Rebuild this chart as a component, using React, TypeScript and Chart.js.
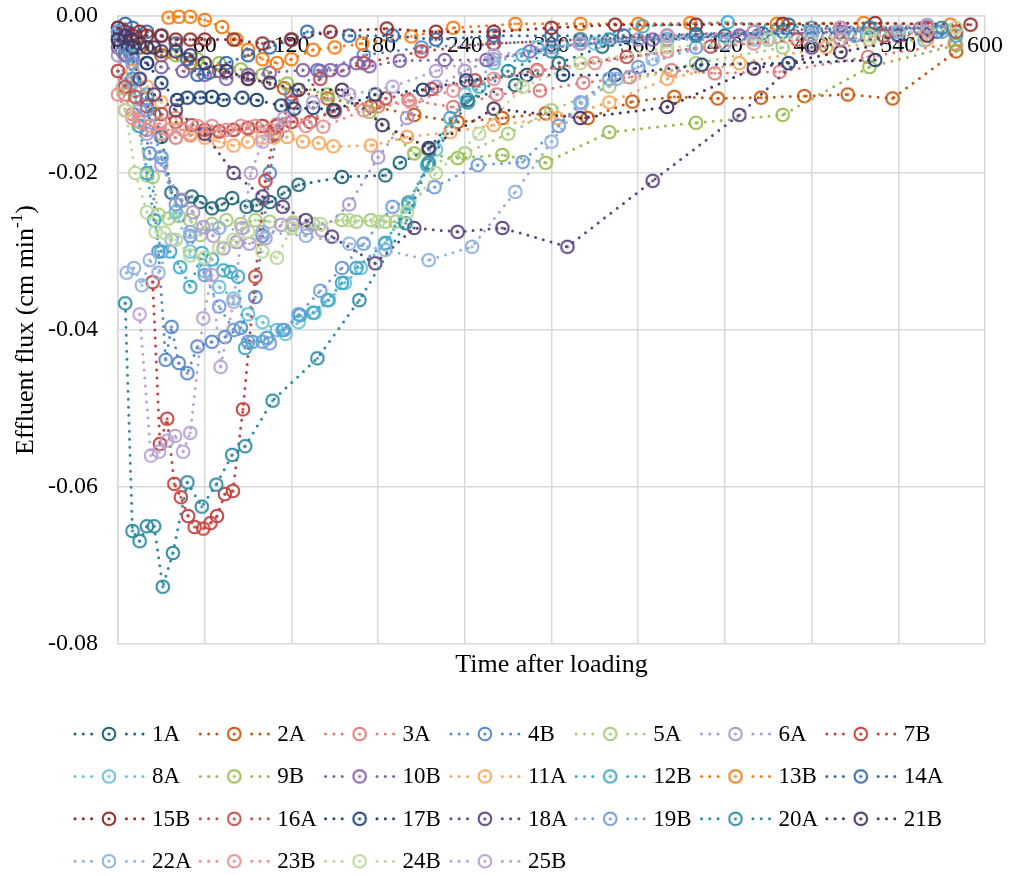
import React, { useEffect, useRef } from "react";
import { Chart, registerables } from "chart.js";

Chart.register(...registerables);

const FONT = '"Liberation Serif", "Times New Roman", serif';

// Sample labels and their colours (legend order)
const seriesNames = [
  "1A", "2A", "3A", "4B", "5A", "6A", "7B",
  "8A", "9B", "10B", "11A", "12B", "13B", "14A",
  "15B", "16A", "17B", "18A", "19B", "20A", "21B",
  "22A", "23B", "24B", "25B",
];
const seriesColors = [
  "#226878", "#C55A11", "#DC7F7D", "#5A8ACB", "#A9CC80", "#AC98CE", "#C4443F",
  "#6CC3DB", "#97BD51", "#8462AC", "#F9A962", "#43A9C8", "#F57C14", "#3669A8",
  "#8E2C2A", "#C0504D", "#1F4373", "#5E4680", "#729DD8", "#2E8CA4", "#48345E",
  "#93B3DC", "#E39391", "#BCD89A", "#B7A5D3",
];

// Axis ranges and ticks
const timeTicks = [0, 60, 120, 180, 240, 300, 360, 420, 480, 540, 600];
const fluxTicks = [0, -0.02, -0.04, -0.06, -0.08];

// [time after loading (min), effluent flux (cm/min)]
const s1A = [[0,-0.0020],[5,-0.0030],[10,-0.0050],[15,-0.0080],[20,-0.0105],[25,-0.0125],[30,-0.0154],[37,-0.0225],[44,-0.0235],[51,-0.0230],[57,-0.0237],[65,-0.0245],[72,-0.0240],[79,-0.0232],[89,-0.0243],[96,-0.0241],[105,-0.0237],[115,-0.0225],[125,-0.0215],[155,-0.0205],[185,-0.0203],[195,-0.0187],[215,-0.0170],[242,-0.0107],[275,-0.0088],[305,-0.0060],[335,-0.0039],[380,-0.0030],[420,-0.0025],[464,-0.0011],[520,-0.0015],[560,-0.0012]];
const s2A = [[5,-0.0030],[15,-0.0040],[30,-0.0050],[50,-0.0060],[70,-0.0070],[90,-0.0080],[115,-0.0092],[145,-0.0105],[175,-0.0115],[205,-0.0126],[235,-0.0135],[266,-0.0130],[296,-0.0124],[325,-0.0130],[356,-0.0109],[385,-0.0103],[415,-0.0105],[445,-0.0104],[475,-0.0102],[505,-0.0100],[536,-0.0105],[580,-0.0045]];
const s3A = [[0,-0.0070],[5,-0.0100],[10,-0.0125],[20,-0.0145],[30,-0.0150],[40,-0.0155],[50,-0.0152],[60,-0.0150],[70,-0.0147],[80,-0.0145],[90,-0.0142],[100,-0.0140],[110,-0.0138],[120,-0.0135],[150,-0.0122],[180,-0.0115],[201,-0.0107],[232,-0.0116],[262,-0.0100],[292,-0.0095],[322,-0.0085],[354,-0.0078],[383,-0.0069],[413,-0.0073],[458,-0.0071],[519,-0.0052],[579,-0.0035]];
const s4B = [[0,-0.0025],[6,-0.0050],[12,-0.0095],[22,-0.0175],[28,-0.0300],[33,-0.0438],[37,-0.0396],[42,-0.0442],[48,-0.0455],[55,-0.0421],[65,-0.0415],[74,-0.0409],[85,-0.0397],[95,-0.0358],[100,-0.0280],[105,-0.0200],[110,-0.0150],[120,-0.0100],[140,-0.0070],[170,-0.0050],[210,-0.0040],[260,-0.0035],[320,-0.0030],[400,-0.0025],[480,-0.0020],[560,-0.0015]];
const s5A = [[3,-0.0092],[8,-0.0092],[14,-0.0140],[20,-0.0203],[24,-0.0205],[28,-0.0253],[35,-0.0258],[42,-0.0255],[50,-0.0260],[57,-0.0279],[65,-0.0265],[75,-0.0260],[85,-0.0265],[95,-0.0260],[105,-0.0262],[121,-0.0263],[135,-0.0265],[155,-0.0260],[165,-0.0262],[175,-0.0260],[185,-0.0262],[192,-0.0262],[201,-0.0237],[215,-0.0190],[240,-0.0175],[270,-0.0150],[300,-0.0120],[340,-0.0090],[400,-0.0060],[460,-0.0040],[520,-0.0030],[580,-0.0020]];
const s6A = [[0,-0.0050],[5,-0.0080],[10,-0.0085],[15,-0.0120],[20,-0.0150],[30,-0.0190],[44,-0.0234],[52,-0.0250],[59,-0.0269],[66,-0.0280],[73,-0.0296],[82,-0.0288],[91,-0.0290],[102,-0.0283],[113,-0.0266],[121,-0.0266],[131,-0.0270],[141,-0.0273],[160,-0.0240],[180,-0.0180],[200,-0.0130],[220,-0.0090],[240,-0.0070],[260,-0.0055],[300,-0.0040],[360,-0.0030],[430,-0.0025],[500,-0.0020],[560,-0.0015]];
const s7B = [[24,-0.0339],[29,-0.0545],[34,-0.0513],[39,-0.0596],[43.5,-0.0613],[48.5,-0.0637],[53,-0.0651],[59,-0.0653],[64,-0.0646],[68.5,-0.0637],[74,-0.0609],[79.5,-0.0605],[86.5,-0.0501],[95,-0.0332],[102,-0.0210],[108,-0.0150],[120,-0.0110],[140,-0.0080],[170,-0.0060],[210,-0.0045],[260,-0.0035],[320,-0.0030],[380,-0.0025],[440,-0.0020],[500,-0.0015],[560,-0.0015]];
const s8A = [[0,-0.0020],[5,-0.0030],[10,-0.0050],[20,-0.0100],[30,-0.0180],[40,-0.0250],[50,-0.0300],[60,-0.0325],[70,-0.0345],[80,-0.0360],[90,-0.0380],[100,-0.0390],[110,-0.0400],[116,-0.0405],[125,-0.0390],[136,-0.0378],[146,-0.0362],[157,-0.0340],[168,-0.0321],[185,-0.0290],[201,-0.0240],[220,-0.0170],[240,-0.0100],[260,-0.0060],[290,-0.0040],[330,-0.0035],[380,-0.0030],[440,-0.0030],[500,-0.0030],[558,-0.0031]];
const s9B = [[5,-0.0030],[20,-0.0040],[40,-0.0050],[55,-0.0055],[70,-0.0060],[85,-0.0068],[100,-0.0075],[117,-0.0086],[145,-0.0100],[174,-0.0122],[205,-0.0175],[235,-0.0181],[266,-0.0177],[296,-0.0187],[340,-0.0148],[400,-0.0136],[460,-0.0126],[520,-0.0065],[580,-0.0037]];
const s10B = [[0,-0.0040],[5,-0.0050],[10,-0.0055],[20,-0.0060],[30,-0.0065],[45,-0.0070],[60,-0.0075],[75,-0.0080],[90,-0.0075],[105,-0.0072],[128,-0.0069],[138,-0.0069],[147,-0.0069],[156,-0.0069],[165,-0.0060],[174,-0.0064],[195,-0.0057],[226,-0.0056],[255,-0.0056],[285,-0.0045],[320,-0.0035],[370,-0.0030],[430,-0.0025],[500,-0.0020],[555,-0.0016]];
const s11A = [[10,-0.0070],[20,-0.0090],[30,-0.0110],[40,-0.0130],[50,-0.0150],[60,-0.0155],[70,-0.0160],[80,-0.0165],[90,-0.0160],[100,-0.0155],[108,-0.0155],[117,-0.0154],[128,-0.0160],[139,-0.0162],[149,-0.0166],[175,-0.0165],[200,-0.0154],[230,-0.0148],[260,-0.0139],[304,-0.0130],[340,-0.0110],[380,-0.0080],[430,-0.0060],[490,-0.0040],[560,-0.0030]];
const s12B = [[0,-0.0020],[5,-0.0040],[10,-0.0080],[15,-0.0140],[20,-0.0200],[25,-0.0260],[30,-0.0300],[36,-0.0300],[43,-0.0320],[50,-0.0345],[58,-0.0302],[65,-0.0310],[73,-0.0324],[78,-0.0326],[83,-0.0332],[88,-0.0423],[93,-0.0415],[103,-0.0410],[114,-0.0400],[126,-0.0381],[135,-0.0378],[145,-0.0362],[155,-0.0340],[165,-0.0321],[185,-0.0289],[201,-0.0238],[214,-0.0190],[230,-0.0130],[250,-0.0090],[280,-0.0050],[320,-0.0030],[363,-0.0013],[422,-0.0008],[480,-0.0015],[540,-0.0020],[580,-0.0025]];
const s13B = [[35,-0.0002],[42,-0.0001],[50,-0.0001],[60,-0.0005],[72,-0.0014],[82,-0.0030],[90,-0.0043],[100,-0.0055],[110,-0.0060],[120,-0.0055],[135,-0.0043],[150,-0.0040],[169,-0.0035],[203,-0.0026],[232,-0.0015],[275,-0.0010],[320,-0.0010],[360,-0.0010],[396,-0.0009],[456,-0.0010],[516,-0.0009],[576,-0.0011]];
const s14A = [[0,-0.0015],[5,-0.0010],[10,-0.0015],[20,-0.0020],[30,-0.0025],[40,-0.0035],[48,-0.0055],[55,-0.0075],[63,-0.0072],[75,-0.0060],[90,-0.0050],[105,-0.0040],[120,-0.0030],[131,-0.0020],[160,-0.0025],[190,-0.0025],[220,-0.0030],[260,-0.0025],[300,-0.0025],[350,-0.0025],[400,-0.0023],[446,-0.0022],[506,-0.0022],[567,-0.0020]];
const s15B = [[0,-0.0015],[5,-0.0020],[10,-0.0025],[15,-0.0020],[20,-0.0025],[30,-0.0025],[40,-0.0030],[50,-0.0030],[60,-0.0030],[80,-0.0030],[100,-0.0035],[120,-0.0030],[147,-0.0020],[186,-0.0016],[220,-0.0020],[260,-0.0020],[300,-0.0015],[344,-0.0011],[400,-0.0011],[460,-0.0010],[524,-0.0009],[590,-0.0011]];
const s16A = [[0,-0.0070],[5,-0.0090],[12,-0.0103],[20,-0.0115],[30,-0.0125],[40,-0.0135],[51,-0.0139],[60,-0.0145],[70,-0.0147],[80,-0.0145],[90,-0.0143],[100,-0.0140],[110,-0.0140],[120,-0.0135],[133,-0.0135],[150,-0.0120],[185,-0.0105],[217,-0.0093],[247,-0.0082],[290,-0.0069],[352,-0.0052],[410,-0.0039],[470,-0.0030],[530,-0.0025],[580,-0.0020]];
const s17B = [[0,-0.0030],[10,-0.0040],[20,-0.0060],[30,-0.0085],[41,-0.0107],[48,-0.0104],[57,-0.0104],[65,-0.0103],[73,-0.0107],[86,-0.0104],[96,-0.0107],[113,-0.0114],[122,-0.0118],[135,-0.0117],[149,-0.0120],[178,-0.0100],[211,-0.0094],[241,-0.0082],[283,-0.0075],[308,-0.0075],[344,-0.0075],[404,-0.0062],[464,-0.0060],[524,-0.0056]];
const s18A = [[5,-0.0030],[15,-0.0080],[25,-0.0100],[40,-0.0120],[60,-0.0150],[80,-0.0200],[100,-0.0230],[114,-0.0243],[130,-0.0260],[148,-0.0281],[178,-0.0315],[205,-0.0270],[235,-0.0275],[266,-0.0270],[311,-0.0294],[370,-0.0210],[430,-0.0126],[480,-0.0040],[540,-0.0025]];
const s19B = [[0,-0.0020],[10,-0.0060],[20,-0.0120],[30,-0.0180],[40,-0.0240],[50,-0.0280],[60,-0.0330],[70,-0.0370],[80,-0.0400],[90,-0.0415],[100,-0.0415],[105,-0.0417],[115,-0.0400],[125,-0.0380],[140,-0.0350],[155,-0.0321],[170,-0.0290],[190,-0.0243],[219,-0.0218],[249,-0.0190],[280,-0.0186],[305,-0.0140],[320,-0.0110],[340,-0.0080],[360,-0.0065],[400,-0.0040],[450,-0.0030],[510,-0.0025],[570,-0.0020]];
const s20A = [[5,-0.0366],[10,-0.0656],[15,-0.0669],[20,-0.0650],[25,-0.0650],[31,-0.0727],[38,-0.0684],[48,-0.0594],[58,-0.0625],[68,-0.0597],[79,-0.0559],[88,-0.0548],[107,-0.0490],[138,-0.0436],[167,-0.0362],[199,-0.0264],[215,-0.0187],[242,-0.0110],[270,-0.0070],[300,-0.0045],[340,-0.0030],[400,-0.0025],[460,-0.0020],[520,-0.0015],[570,-0.0015]];
const s21B = [[0,-0.0030],[5,-0.0025],[10,-0.0030],[15,-0.0035],[20,-0.0040],[25,-0.0040],[30,-0.0045],[40,-0.0045],[50,-0.0050],[60,-0.0060],[75,-0.0070],[90,-0.0080],[105,-0.0085],[125,-0.0094],[155,-0.0094],[183,-0.0139],[215,-0.0168],[260,-0.0118],[320,-0.0130],[380,-0.0116],[440,-0.0067],[500,-0.0046],[560,-0.0025]];
const s22A = [[6,-0.0327],[11,-0.0321],[16.5,-0.0343],[22,-0.0311],[28,-0.0327],[37,-0.0285],[50,-0.0275],[70,-0.0270],[100,-0.0275],[130,-0.0280],[160,-0.0290],[185,-0.0298],[215,-0.0311],[245,-0.0294],[275,-0.0224],[300,-0.0160],[321,-0.0111],[345,-0.0080],[370,-0.0055],[420,-0.0035],[480,-0.0025],[540,-0.0020]];
const s23B = [[0,-0.0100],[5,-0.0120],[10,-0.0130],[15,-0.0135],[22,-0.0140],[29,-0.0137],[35,-0.0145],[45,-0.0145],[55,-0.0140],[65,-0.0140],[75,-0.0145],[85,-0.0140],[95,-0.0140],[105,-0.0145],[115,-0.0140],[130,-0.0140],[142,-0.0141],[170,-0.0120],[202,-0.0109],[232,-0.0095],[260,-0.0080],[290,-0.0070],[330,-0.0060],[380,-0.0045],[440,-0.0035],[500,-0.0030],[560,-0.0020]];
const s24B = [[5,-0.0120],[12,-0.0200],[20,-0.0250],[26,-0.0275],[32,-0.0276],[40,-0.0285],[50,-0.0305],[60,-0.0308],[70,-0.0295],[80,-0.0285],[90,-0.0275],[100,-0.0300],[110,-0.0308],[120,-0.0270],[140,-0.0265],[160,-0.0260],[180,-0.0262],[200,-0.0250],[220,-0.0200],[250,-0.0150],[280,-0.0090],[320,-0.0060],[380,-0.0040],[450,-0.0030],[520,-0.0025],[580,-0.0015]];
const s25B = [[15,-0.0380],[22.8,-0.0560],[28.4,-0.0555],[34,-0.0541],[39.5,-0.0535],[45,-0.0555],[50,-0.0531],[59,-0.0385],[65,-0.0330],[71,-0.0447],[80,-0.0364],[86,-0.0270],[92,-0.0200],[100,-0.0160],[115,-0.0130],[135,-0.0110],[160,-0.0100],[190,-0.0090],[220,-0.0070],[260,-0.0050],[320,-0.0035],[380,-0.0025],[440,-0.0020],[500,-0.0015],[560,-0.0012]];

const seriesData = [
  s1A, s2A, s3A, s4B, s5A, s6A, s7B, s8A, s9B, s10B, s11A, s12B, s13B,
  s14A, s15B, s16A, s17B, s18A, s19B, s20A, s21B, s22A, s23B, s24B, s25B,
];

// Open circle marker with a centre dot
function makeMarker(color: string): HTMLCanvasElement {
  const size = 18;
  const c = document.createElement("canvas");
  c.width = size;
  c.height = size;
  const ctx = c.getContext("2d")!;
  ctx.strokeStyle = color;
  ctx.lineWidth = 2;
  ctx.beginPath();
  ctx.arc(size / 2, size / 2, 6.3, 0, Math.PI * 2);
  ctx.stroke();
  ctx.fillStyle = color;
  ctx.beginPath();
  ctx.arc(size / 2, size / 2, 1.6, 0, Math.PI * 2);
  ctx.fill();
  return c;
}

const W = 1011;
const H = 876;

// Keep the plot area fixed by ignoring the label overhang padding
const noOverhang = (scale: any) => {
  scale.paddingTop = 0;
  scale.paddingBottom = 0;
  scale.paddingLeft = 0;
  scale.paddingRight = 0;
};

export default function App() {
  const canvasRef = useRef<HTMLCanvasElement | null>(null);

  useEffect(() => {
    document.body.style.margin = "0";
    const canvas = canvasRef.current;
    if (!canvas) return;
    const markers = seriesColors.map(makeMarker);

    // Axis titles and a fixed-column legend drawn on the canvas
    const decorations = {
      id: "decorations",
      afterDraw(chart: Chart) {
        const ctx = chart.ctx;
        const area = chart.chartArea;
        ctx.save();
        ctx.fillStyle = "#000";
        ctx.textBaseline = "middle";

        // x-axis title
        ctx.font = `26px ${FONT}`;
        ctx.textAlign = "center";
        ctx.fillText("Time after loading", (area.left + area.right) / 2, 665);

        // y-axis title with superscript
        const main = "Effluent flux (cm min";
        const sup = "-1";
        const tail = ")";
        ctx.font = `26px ${FONT}`;
        const wMain = ctx.measureText(main).width;
        const wTail = ctx.measureText(tail).width;
        ctx.font = `17px ${FONT}`;
        const wSup = ctx.measureText(sup).width;
        const total = wMain + wSup + wTail;
        ctx.translate(26, (area.top + area.bottom) / 2);
        ctx.rotate(-Math.PI / 2);
        ctx.textAlign = "left";
        let x = -total / 2;
        ctx.font = `26px ${FONT}`;
        ctx.fillText(main, x, 0);
        x += wMain;
        ctx.font = `17px ${FONT}`;
        ctx.fillText(sup, x, -8);
        x += wSup;
        ctx.font = `26px ${FONT}`;
        ctx.fillText(tail, x, 0);
        ctx.setTransform(1, 0, 0, 1, 0, 0);

        // legend: 7 columns
        ctx.font = `23px ${FONT}`;
        ctx.textAlign = "left";
        seriesNames.forEach((name, i) => {
          const col = i % 7;
          const row = Math.floor(i / 7);
          const x0 = 75 + col * 125.3;
          const y = 734 + row * 42.4;
          ctx.fillStyle = seriesColors[i];
          for (const dx of [0, 8.3, 16.6, 51.4, 59.7, 68]) {
            ctx.beginPath();
            ctx.arc(x0 + dx, y, 1.5, 0, Math.PI * 2);
            ctx.fill();
          }
          ctx.drawImage(markers[i], x0 + 34 - 9, y - 9);
          ctx.fillStyle = "#000";
          ctx.fillText(name, x0 + 77, y + 1);
        });
        ctx.restore();
      },
    };

    const datasets = seriesNames.map((name, i) => ({
      label: name,
      data: seriesData[i].map(([t, f]) => ({ x: t, y: f })),
      borderColor: seriesColors[i],
      backgroundColor: seriesColors[i],
      borderWidth: 3,
      borderDash: [0, 8],
      borderCapStyle: "round" as const,
      pointStyle: markers[i],
      pointRadius: 7,
      pointHoverRadius: 7,
      tension: 0,
      fill: false,
      clip: false as const,
      order: seriesNames.length - 1 - i,
    }));

    const chart = new Chart(canvas, {
      type: "line",
      data: { datasets },
      plugins: [decorations],
      options: {
        animation: false,
        responsive: false,
        devicePixelRatio: 1,
        layout: { padding: { left: 0, top: 16, right: 26, bottom: 232 } },
        plugins: { legend: { display: false }, tooltip: { enabled: false } },
        scales: {
          x: {
            type: "linear",
            position: { y: 0 },
            min: timeTicks[0],
            max: timeTicks[timeTicks.length - 1],
            afterBuildTicks: (scale: any) => {
              scale.ticks = timeTicks.map((v) => ({ value: v }));
            },
            afterFit: noOverhang,
            ticks: {
              autoSkip: false,
              maxRotation: 0,
              padding: 15,
              color: "#000",
              font: { family: FONT, size: 24 },
            },
            grid: { color: "#D9D9D9", lineWidth: 1.5, drawTicks: false },
            border: { color: "#D9D9D9", width: 1.5 },
          },
          y: {
            type: "linear",
            min: fluxTicks[fluxTicks.length - 1],
            max: fluxTicks[0],
            afterBuildTicks: (scale: any) => {
              scale.ticks = fluxTicks.slice().reverse().map((v) => ({ value: v }));
            },
            afterFit: (scale: any) => {
              scale.width = 118;
              noOverhang(scale);
            },
            ticks: {
              padding: 20,
              color: "#000",
              font: { family: FONT, size: 24 },
              callback: (v: any) => Number(v).toFixed(2),
            },
            grid: { color: "#D9D9D9", lineWidth: 1.5, drawTicks: false },
            border: { color: "#D9D9D9", width: 1.5 },
          },
        },
      },
    });
    return () => chart.destroy();
  }, []);

  return (
    <canvas
      ref={canvasRef}
      width={W}
      height={H}
      style={{ display: "block", width: W, height: H }}
    />
  );
}
